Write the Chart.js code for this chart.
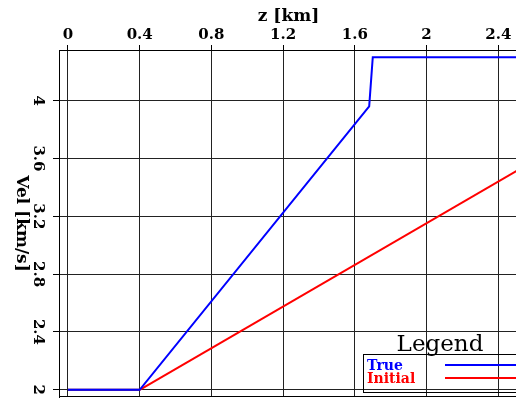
<!DOCTYPE html>
<html>
<head>
<meta charset="utf-8">
<script src="https://cdn.jsdelivr.net/npm/chart.js@4/dist/chart.umd.min.js"></script>
<style>
  html, body { margin: 0; padding: 0; background: #fff; overflow: hidden; }
  #wrap { position: relative; width: 520px; height: 398px; }
</style>
</head>
<body>
<div id="wrap"><canvas id="c" width="520" height="398"></canvas></div>
<script>
// Velocity profiles against depth
const trueZ = [0, 0.4, 1.68, 1.70, 2.51];
const trueV = [2.0, 2.0, 3.96, 4.30, 4.30];
const initZ = [0, 0.4, 2.51];
const initV = [2.0, 2.0, 3.52];

// Axis ticks
const zTicks = [0, 0.4, 0.8, 1.2, 1.6, 2.0, 2.4];
const zTickLabels = ['0', '0.4', '0.8', '1.2', '1.6', '2', '2.4'];
const vTicks = [2.0, 2.4, 2.8, 3.2, 3.6, 4.0];
const vTickLabels = ['2', '2.4', '2.8', '3.2', '3.6', '4'];

const seriesNames = ['True', 'Initial'];
const seriesColors = ['#0000ff', '#ff0000'];

const toPoints = (xs, ys) => xs.map((x, i) => ({ x: x, y: ys[i] }));

const BOLD = 'bold 15px "DejaVu Serif"';

// Frame, rotated velocity ticks/title and the boxed legend
const decorations = {
  id: 'decorations',
  afterDraw(chart) {
    const ctx = chart.ctx;
    const a = chart.chartArea;
    const ys = chart.scales.y;
    ctx.save();
    // frame
    ctx.strokeStyle = '#000';
    ctx.lineWidth = 1;
    ctx.strokeRect(a.left + 0.5, a.top + 0.5, a.right - a.left - 1, a.bottom - a.top - 1);

    // velocity tick labels, rotated clockwise
    ctx.fillStyle = '#000';
    ctx.font = BOLD;
    ctx.textAlign = 'center';
    ctx.textBaseline = 'middle';
    vTicks.forEach((v, i) => {
      const py = ys.getPixelForValue(v);
      ctx.save();
      ctx.translate(38, py);
      ctx.rotate(Math.PI / 2);
      ctx.fillText(vTickLabels[i], 0, 0);
      ctx.restore();
    });
    // velocity axis title
    ctx.save();
    ctx.font = 'bold 17px "DejaVu Serif"';
    ctx.translate(21, (a.top + a.bottom) / 2);
    ctx.rotate(Math.PI / 2);
    ctx.fillText('Vel [km/s]', 0, 0);
    ctx.restore();

    // legend
    ctx.font = '23px "DejaVu Serif"';
    ctx.textAlign = 'center';
    ctx.textBaseline = 'alphabetic';
    ctx.fillText('Legend', 440, 351);
    ctx.strokeStyle = '#000';
    ctx.lineWidth = 1;
    ctx.strokeRect(363.5, 354.5, 200, 38);
    ctx.font = 'bold 14px "DejaVu Serif"';
    ctx.textAlign = 'left';
    seriesNames.forEach((name, i) => {
      const ly = 365 + i * 13;
      ctx.fillStyle = seriesColors[i];
      ctx.fillText(name, 367, ly + 5);
      ctx.strokeStyle = seriesColors[i];
      ctx.lineWidth = 2;
      ctx.beginPath();
      ctx.moveTo(445, ly);
      ctx.lineTo(520, ly);
      ctx.stroke();
    });
    ctx.restore();
  }
};

new Chart(document.getElementById('c'), {
  type: 'line',
  data: {
    datasets: [
      {
        label: seriesNames[0],
        data: toPoints(trueZ, trueV),
        borderColor: seriesColors[0],
        borderWidth: 2,
        pointRadius: 0,
        fill: false,
        tension: 0
      },
      {
        label: seriesNames[1],
        data: toPoints(initZ, initV),
        borderColor: seriesColors[1],
        borderWidth: 2,
        pointRadius: 0,
        fill: false,
        tension: 0,
        // where both profiles coincide the stroke reads dark red
        segment: { borderColor: c => (c.p1.parsed.x <= 0.4 ? '#800000' : undefined) }
      }
    ]
  },
  options: {
    responsive: false,
    animation: false,
    layout: { padding: { top: 0, left: 0, right: 2, bottom: 1 } },
    plugins: { legend: { display: false }, tooltip: { enabled: false } },
    scales: {
      x: {
        type: 'linear',
        position: 'top',
        min: -0.05,
        max: 2.51,
        afterBuildTicks: s => { s.ticks = zTicks.map(v => ({ value: v })); },
        afterFit: s => { s.height = 50; },
        ticks: {
          color: '#000',
          font: { family: 'DejaVu Serif', size: 15, weight: 'bold' },
          padding: 1,
          maxRotation: 0,
          autoSkip: false,
          callback: (v) => { const i = zTicks.findIndex(t => Math.abs(t - v) < 1e-9); return i >= 0 ? zTickLabels[i] : ''; }
        },
        grid: { color: '#222', lineWidth: 1, tickLength: 5, tickColor: '#000' },
        border: { color: '#000', width: 1 },
        title: {
          display: true,
          text: 'z [km]',
          color: '#000',
          font: { family: 'DejaVu Serif', size: 17, weight: 'bold' },
          padding: { top: 6, bottom: 0 }
        }
      },
      y: {
        type: 'linear',
        position: 'left',
        min: 1.95,
        max: 4.35,
        afterBuildTicks: s => { s.ticks = vTicks.map(v => ({ value: v })); },
        afterFit: s => { s.width = 59; },
        ticks: { display: false },
        grid: { color: '#222', lineWidth: 1, tickLength: 6, tickColor: '#000' },
        border: { color: '#000', width: 1 }
      }
    }
  },
  plugins: [decorations]
});
</script>
</body>
</html>
